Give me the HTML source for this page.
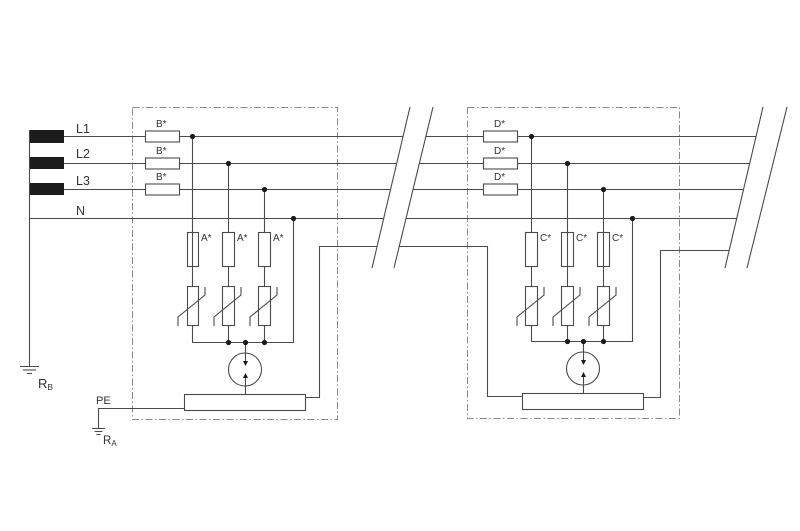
<!DOCTYPE html>
<html>
<head>
<meta charset="utf-8">
<style>
html,body{margin:0;padding:0;background:#fff;}
svg{display:block;}
text{font-family:"Liberation Sans",Arial,sans-serif;fill:#333;}
</style>
</head>
<body>
<svg width="800" height="531" viewBox="0 0 800 531" xmlns="http://www.w3.org/2000/svg">
<rect width="800" height="531" fill="#fff"/>

<!-- dashed enclosures -->
<g fill="none" stroke="#888" stroke-width="1" stroke-dasharray="7 2.5 1.5 2.5">
  <rect x="132.5" y="107.5" width="205" height="312"/>
  <rect x="467.5" y="107.5" width="212" height="311"/>
</g>

<!-- transformer -->
<g fill="#1c1c1c">
  <rect x="29" y="130" width="35" height="13"/>
  <rect x="29" y="157" width="35" height="12"/>
  <rect x="29" y="183" width="35" height="12"/>
</g>

<g stroke="#4a4a4a" stroke-width="1.1" fill="none">
  <!-- transformer common & earth -->
  <line x1="29.5" y1="130" x2="29.5" y2="366"/>
  <line x1="20" y1="366.5" x2="39" y2="366.5"/>
  <line x1="23" y1="370" x2="36" y2="370"/>
  <line x1="27" y1="373.5" x2="32" y2="373.5"/>

  <!-- L1 L2 L3 N left segment -->
  <line x1="64" y1="136.5" x2="145" y2="136.5"/>
  <line x1="179" y1="136.5" x2="403.2" y2="136.5"/>
  <line x1="64" y1="163.5" x2="145" y2="163.5"/>
  <line x1="179" y1="163.5" x2="396.8" y2="163.5"/>
  <line x1="64" y1="189.5" x2="145" y2="189.5"/>
  <line x1="179" y1="189.5" x2="390.6" y2="189.5"/>
  <line x1="29" y1="218.5" x2="383.8" y2="218.5"/>

  <!-- B* fuses -->
  <rect x="145.5" y="131" width="34" height="11"/>
  <rect x="145.5" y="158" width="34" height="11"/>
  <rect x="145.5" y="184" width="34" height="11"/>

  <!-- middle segment -->
  <line x1="426" y1="136.5" x2="483" y2="136.5"/>
  <line x1="517" y1="136.5" x2="756.2" y2="136.5"/>
  <line x1="419.4" y1="163.5" x2="483" y2="163.5"/>
  <line x1="517" y1="163.5" x2="749.8" y2="163.5"/>
  <line x1="413.1" y1="189.5" x2="483" y2="189.5"/>
  <line x1="517" y1="189.5" x2="743.6" y2="189.5"/>
  <line x1="406.1" y1="218.5" x2="736.8" y2="218.5"/>

  <!-- D* fuses -->
  <rect x="483.5" y="131" width="34" height="11"/>
  <rect x="483.5" y="158" width="34" height="11"/>
  <rect x="483.5" y="184" width="34" height="11"/>

  <!-- break slashes -->
  <line x1="410" y1="107" x2="372" y2="268"/>
  <line x1="433" y1="107" x2="394" y2="268"/>
  <line x1="763" y1="107" x2="725" y2="268"/>
  <line x1="787" y1="107" x2="747" y2="268"/>

  <!-- ===== Box 1 ===== -->
  <line x1="192.5" y1="136" x2="192.5" y2="286"/>
  <line x1="228.5" y1="163" x2="228.5" y2="232"/>
  <line x1="228.5" y1="266" x2="228.5" y2="286"/>
  <line x1="264.5" y1="189" x2="264.5" y2="232"/>
  <line x1="264.5" y1="266" x2="264.5" y2="286"/>
  <line x1="293.5" y1="218" x2="293.5" y2="342"/>
  <!-- A* fuses -->
  <rect x="187.5" y="232.5" width="11" height="34"/>
  <rect x="222.5" y="232.5" width="12" height="34"/>
  <rect x="258.5" y="232.5" width="12" height="34"/>
  <!-- varistors -->
  <rect x="187.5" y="286.5" width="11" height="39"/>
  <rect x="222.5" y="286.5" width="12" height="39"/>
  <rect x="258.5" y="286.5" width="12" height="39"/>
  <polyline points="178,326 178,317 205,295 205,287"/>
  <polyline points="214,326 214,317 241,295 241,287"/>
  <polyline points="250,326 250,317 277,295 277,287"/>
  <line x1="192.5" y1="325" x2="192.5" y2="342"/>
  <line x1="228.5" y1="325" x2="228.5" y2="342"/>
  <line x1="264.5" y1="325" x2="264.5" y2="342"/>
  <!-- bus -->
  <line x1="192" y1="342.5" x2="294" y2="342.5"/>
  <!-- monitor circle -->
  <circle cx="245" cy="369.5" r="16.5"/>
  <line x1="245.5" y1="342" x2="245.5" y2="362"/>
  <line x1="245.5" y1="377" x2="245.5" y2="394"/>
  <!-- bottom rect -->
  <rect x="184.5" y="394.5" width="121" height="16"/>
  <!-- PE -->
  <line x1="98" y1="408.5" x2="184" y2="408.5"/>
  <line x1="98.5" y1="408" x2="98.5" y2="428"/>
  <line x1="92" y1="428.5" x2="105" y2="428.5"/>
  <line x1="94.5" y1="431.5" x2="102.5" y2="431.5"/>
  <line x1="96.5" y1="434.5" x2="100.5" y2="434.5"/>
  <!-- right connection -->
  <polyline points="306,397.5 319.5,397.5 319.5,246.5 377.2,246.5"/>

  <!-- ===== Box 2 ===== -->
  <line x1="531.5" y1="136" x2="531.5" y2="232"/>
  <line x1="531.5" y1="266" x2="531.5" y2="286"/>
  <line x1="567.5" y1="163" x2="567.5" y2="286"/>
  <line x1="603.5" y1="189" x2="603.5" y2="286"/>
  <line x1="632.5" y1="218" x2="632.5" y2="341"/>
  <rect x="525.5" y="232.5" width="12" height="34"/>
  <rect x="561.5" y="232.5" width="12" height="34"/>
  <rect x="597.5" y="232.5" width="12" height="34"/>
  <rect x="525.5" y="286.5" width="12" height="39"/>
  <rect x="561.5" y="286.5" width="12" height="39"/>
  <rect x="597.5" y="286.5" width="12" height="39"/>
  <polyline points="517,326 517,317 544,295 544,287"/>
  <polyline points="553,326 553,317 580,295 580,287"/>
  <polyline points="589,326 589,317 616,295 616,287"/>
  <line x1="531.5" y1="325" x2="531.5" y2="341"/>
  <line x1="567.5" y1="325" x2="567.5" y2="341"/>
  <line x1="603.5" y1="325" x2="603.5" y2="341"/>
  <line x1="531" y1="341.5" x2="633" y2="341.5"/>
  <circle cx="583" cy="368.5" r="16.5"/>
  <line x1="583.5" y1="341" x2="583.5" y2="361"/>
  <line x1="583.5" y1="376" x2="583.5" y2="393"/>
  <rect x="522.5" y="393.5" width="121" height="16"/>
  <polyline points="399.3,246.5 487.5,246.5 487.5,396.5 522,396.5"/>
  <polyline points="643,397.5 660.5,397.5 660.5,250.5 729.2,250.5"/>
</g>

<!-- junction dots -->
<g fill="#1a1a1a">
  <circle cx="192.5" cy="136.5" r="2.6"/>
  <circle cx="228.5" cy="163.5" r="2.6"/>
  <circle cx="264.5" cy="189.5" r="2.6"/>
  <circle cx="293.5" cy="218.5" r="2.6"/>
  <circle cx="228.5" cy="342.5" r="2.6"/>
  <circle cx="245.5" cy="342.5" r="2.6"/>
  <circle cx="264.5" cy="342.5" r="2.6"/>
  <circle cx="531.5" cy="136.5" r="2.6"/>
  <circle cx="567.5" cy="163.5" r="2.6"/>
  <circle cx="603.5" cy="189.5" r="2.6"/>
  <circle cx="632.5" cy="218.5" r="2.6"/>
  <circle cx="567.5" cy="341.5" r="2.6"/>
  <circle cx="583.5" cy="341.5" r="2.6"/>
  <circle cx="603.5" cy="341.5" r="2.6"/>
  <!-- arrowheads -->
  <polygon points="243,361 248,361 245.5,366"/>
  <polygon points="243,378 248,378 245.5,373"/>
  <polygon points="581,360 586,360 583.5,365"/>
  <polygon points="581,377 586,377 583.5,372"/>
</g>

<!-- labels -->
<g font-size="12.5">
  <text x="76" y="133">L1</text>
  <text x="76" y="158">L2</text>
  <text x="76" y="185">L3</text>
  <text x="76" y="215">N</text>
</g>
<g font-size="10">
  <text x="156" y="127">B*</text>
  <text x="156" y="154">B*</text>
  <text x="156" y="180">B*</text>
  <text x="494" y="127">D*</text>
  <text x="494" y="154">D*</text>
  <text x="494" y="180">D*</text>
  <text x="201" y="241">A*</text>
  <text x="237" y="241">A*</text>
  <text x="273" y="241">A*</text>
  <text x="540" y="241">C*</text>
  <text x="576" y="241">C*</text>
  <text x="612" y="241">C*</text>
</g>
<text x="38" y="388" font-size="13">R<tspan font-size="8.5" dy="2">B</tspan></text>
<text x="96" y="404" font-size="11">PE</text>
<text x="103" y="444" font-size="11.5">R<tspan font-size="8" dy="2">A</tspan></text>
</svg>
</body>
</html>
